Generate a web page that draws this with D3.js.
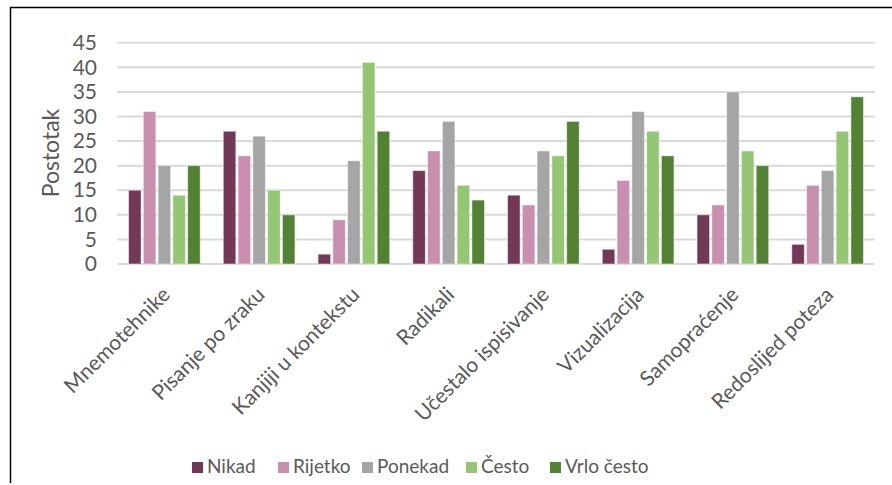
<!DOCTYPE html>
<html><head><meta charset="utf-8">
<script src="https://cdn.jsdelivr.net/npm/d3@7"></script>
<style>body{margin:0;background:#fff}svg{display:block}text{font-family:Lato,"Open Sans",sans-serif}</style>
</head><body>
<svg id="c" width="892" height="485"></svg>
<script>
const categories = ["Mnemotehnike","Pisanje po zraku","Kanjiji u kontekstu","Radikali","Učestalo ispisivanje","Vizualizacija","Samopraćenje","Redoslijed poteza"];
const seriesNames = ["Nikad","Rijetko","Ponekad","Često","Vrlo često"];
const nikad   = [15, 27, 2, 19, 14, 3, 10, 4];
const rijetko = [31, 22, 9, 23, 12, 17, 12, 16];
const ponekad = [20, 26, 21, 29, 23, 31, 35, 19];
const cesto   = [14, 15, 41, 16, 22, 27, 23, 27];
const vrloCesto = [20, 10, 27, 13, 29, 22, 20, 34];
const yTicks = [0,5,10,15,20,25,30,35,40,45];
const colors = ["#723957","#c890ae","#a5a5a5","#95c674","#548235"];
const seriesValues = [nikad, rijetko, ponekad, cesto, vrloCesto];

const svg = d3.select("#c");
// chart border (top and left edges visible)
svg.append("path").attr("d","M10.5,483 V7.5 H892").attr("fill","none").attr("stroke","#000").attr("stroke-width",1.5);

const x = d3.scaleBand().domain(categories).range([117,875]).paddingInner(0.22).paddingOuter(0.11);
const xs = d3.scaleBand().domain(seriesNames).range([0, x.bandwidth()]).paddingInner(0.15).paddingOuter(0.075);
const y = d3.scaleLinear().domain([0,45]).range([264,42.7]);

// gridlines
svg.append("g").selectAll("line").data(yTicks).join("line")
  .attr("x1",117).attr("x2",875).attr("y1",d=>y(d)).attr("y2",d=>y(d))
  .attr("stroke","#d9d9d9").attr("stroke-width",2);

// y axis labels
const yAxis = svg.append("g").attr("transform","translate(97,0)")
  .call(d3.axisLeft(y).tickValues(yTicks).tickSize(0).tickPadding(0));
yAxis.select(".domain").remove();
yAxis.selectAll("text").attr("fill","#595959").style("font-size","21px").style("font-family","Lato");

svg.append("text").attr("transform","translate(59,153) rotate(-90)")
  .attr("text-anchor","middle").attr("fill","#595959").style("font-size","23px").text("Postotak");

// bars
const groups = svg.append("g").selectAll("g").data(categories).join("g")
  .attr("transform", c => `translate(${x(c)},0)`);
groups.selectAll("rect").data((c,i) => seriesNames.map((s,j)=>({s, v: seriesValues[j][i], j})))
  .join("rect")
  .attr("x", d => xs(d.s)).attr("width", xs.bandwidth())
  .attr("y", d => y(d.v)).attr("height", d => y(0) - y(d.v))
  .attr("fill", d => colors[d.j]).attr("stroke","#ffffff").attr("stroke-opacity",0.5).attr("stroke-width",1);

// category labels
svg.append("g").selectAll("text").data(categories).join("text")
  .attr("transform", c => `translate(${x(c)+x.bandwidth()/2+7},296) rotate(-45)`)
  .attr("text-anchor","end").attr("fill","#595959").style("font-size","21px").text(c=>c);

// legend
const legX = [192, 278, 362, 466, 550];
const leg = svg.append("g").selectAll("g").data(seriesNames).join("g")
  .attr("transform",(d,i)=>`translate(${legX[i]},462)`);
leg.append("rect").attr("width",11).attr("height",11).attr("fill",(d,i)=>colors[i]);
leg.append("text").attr("x",15).attr("y",11).attr("fill","#595959").style("font-size","19px").text(d=>d);
</script>
</body></html>
